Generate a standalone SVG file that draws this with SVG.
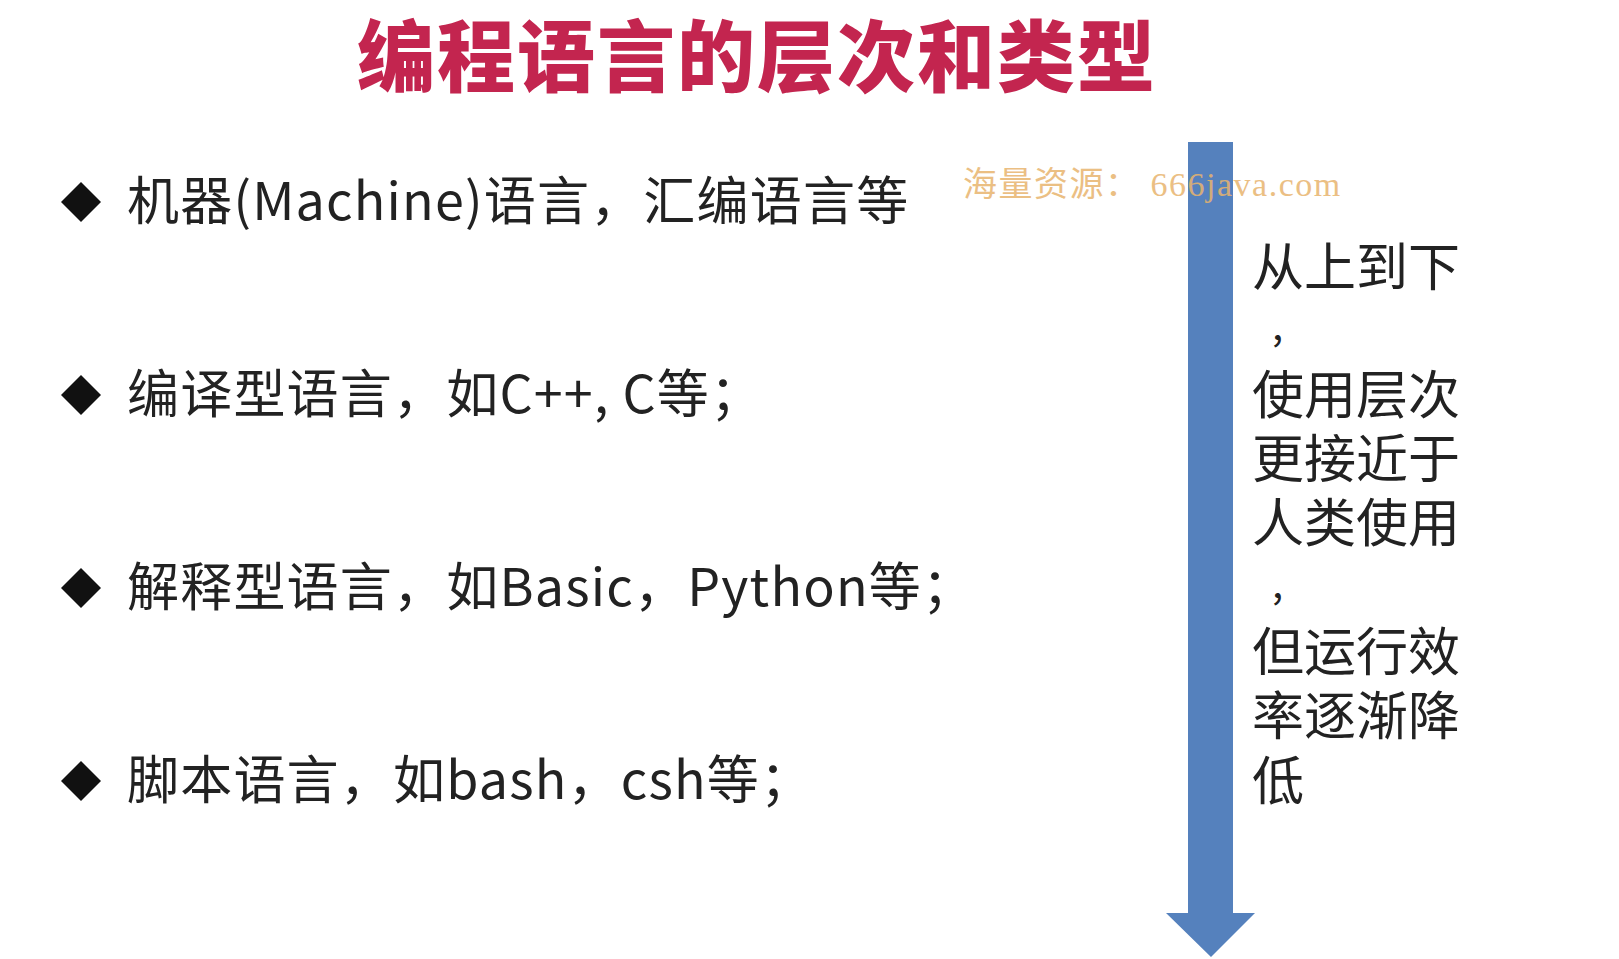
<svg xmlns="http://www.w3.org/2000/svg" width="1619" height="959" viewBox="0 0 1619 959">
<style>
.t{font-family:"Noto Sans CJK SC","Noto Sans",sans-serif;font-size:52px;fill:#222;letter-spacing:1.2px}
.r{font-family:"Noto Sans CJK SC",sans-serif;font-size:52px;fill:#222}
.d{fill:#111}
</style>
<rect width="1619" height="959" fill="#fff"/>
<text x="757" y="86" text-anchor="middle" font-family="Noto Sans CJK SC,sans-serif" font-weight="900" font-size="78" fill="#c3254f" letter-spacing="2">编程语言的层次和类型</text>
<g id="item1"><path class="d" d="M81 182 L101 202 L81 222 L61 202Z"/><text class="t" x="127" y="220">机器(Machine)语言，汇编语言等</text></g>
<g id="item2"><path class="d" d="M81 375 L101 395 L81 415 L61 395Z"/><text class="t" x="127" y="413">编译型语言，如C++, C等；</text></g>
<g id="item3"><path class="d" d="M81 568 L101 588 L81 608 L61 588Z"/><text class="t" x="127" y="606">解释型语言，如Basic，Python等；</text></g>
<g id="item4"><path class="d" d="M81 761 L101 781 L81 801 L61 781Z"/><text class="t" x="127" y="799">脚本语言，如bash，csh等；</text></g>
<g id="connectors"><path d="M1188 142 H1233 V913 H1255 L1211 957 L1166 913 H1188Z" fill="#5581bd"/></g>
<text x="963" y="196" font-family="Liberation Serif,Noto Sans CJK SC,serif" font-size="34" letter-spacing="1.5" fill="#e8b46e" opacity="0.85">海量资源： 666java.com</text>
<g id="note" class="r">
<text x="1252" y="286">从上到下</text>
<text x="1272" y="340" font-size="40">,</text>
<text x="1252" y="414">使用层次</text>
<text x="1252" y="478">更接近于</text>
<text x="1252" y="542">人类使用</text>
<text x="1272" y="598" font-size="40">,</text>
<text x="1252" y="671">但运行效</text>
<text x="1252" y="735">率逐渐降</text>
<text x="1252" y="800">低</text>
</g>
</svg>
